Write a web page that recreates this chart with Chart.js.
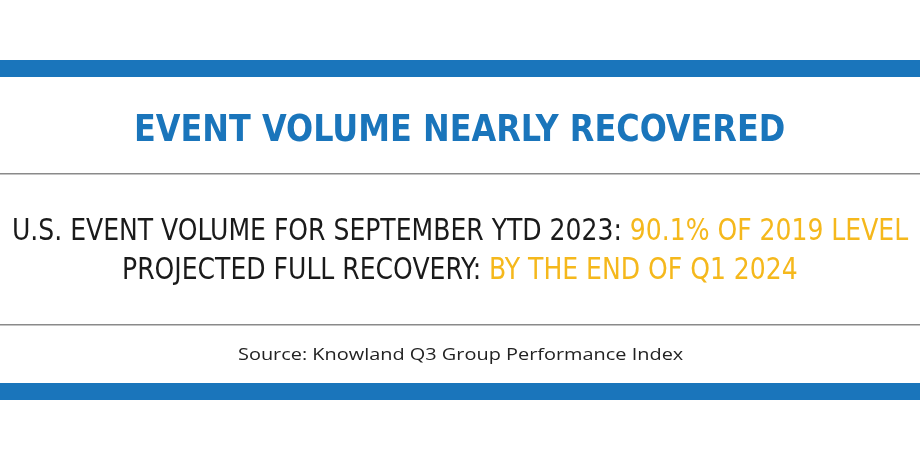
<!DOCTYPE html>
<html><head><meta charset="utf-8">
<script src="https://cdn.jsdelivr.net/npm/chart.js@4/dist/chart.umd.min.js"></script>
<style>
html,body{margin:0;padding:0;background:#fff;width:920px;height:471px;overflow:hidden}
#wrap{position:relative;width:920px;height:471px}
canvas{position:absolute;left:0;top:0}
.t{position:absolute;left:0;width:920px;height:50px}
.t span.in{position:absolute;left:0;top:0;white-space:nowrap;transform-origin:0 0}
#title{top:106px;font:bold 38px "DejaVu Sans Condensed",sans-serif;color:#1a75bb}
.l{font:30px "DejaVu Sans Condensed",sans-serif;color:#1a1a1a}
#l1{top:212px}#l2{top:251px}
.y{color:#f5b81c}
#src{top:342px;font:17px "Open Sans",sans-serif;color:#222}
</style></head><body>
<div id="wrap"><canvas id="c" width="920" height="471"></canvas>
<div class="t" id="title"><span class="in" data-x="134" data-w="651">EVENT VOLUME NEARLY RECOVERED</span></div>
<div class="t l" id="l1"><span class="in" data-x="12" data-w="896"></span></div>
<div class="t l" id="l2"><span class="in" data-x="122" data-w="676"></span></div>
<div class="t" id="src"><span class="in" data-x="238" data-w="445">Source: Knowland Q3 Group Performance Index</span></div>
</div>
<script>
const line1Labels = ["U.S. EVENT VOLUME FOR SEPTEMBER YTD 2023: ", "90.1% OF 2019 LEVEL"];
const line2Labels = ["PROJECTED FULL RECOVERY: ", "BY THE END OF Q1 2024"];
const fill = (id, parts) => {
  const s = document.querySelector('#' + id + ' .in');
  s.innerHTML = '';
  const a = document.createElement('span'); a.textContent = parts[0];
  const b = document.createElement('span'); b.className = 'y'; b.textContent = parts[1];
  s.appendChild(a); s.appendChild(b);
};
fill('l1', line1Labels); fill('l2', line2Labels);
function fit() {
  document.querySelectorAll('.in[data-w]').forEach(s => {
    s.style.transform = 'none';
    const w = s.offsetWidth;
    s.style.left = s.dataset.x + 'px';
    s.style.transform = 'scaleX(' + (parseFloat(s.dataset.w) / w) + ')';
  });
}
fit();
if (document.fonts && document.fonts.ready) document.fonts.ready.then(fit);
const decor = {
  id: 'decor',
  beforeDraw(ch) {
    const g = ch.ctx;
    g.save();
    g.fillStyle = '#1a75bb';
    g.fillRect(0, 60, 920, 17);
    g.fillRect(0, 383, 920, 17);
    g.fillStyle = '#8a8a8a';
    g.fillRect(0, 173, 920, 1.5);
    g.fillRect(0, 324, 920, 1.5);
    g.restore();
  }
};
new Chart(document.getElementById('c'), {
  type: 'bar',
  data: { labels: [], datasets: [] },
  options: {
    responsive: false, animation: false,
    plugins: { legend: { display: false }, tooltip: { enabled: false } },
    scales: { x: { display: false }, y: { display: false } }
  },
  plugins: [decor]
});
</script>
</body></html>
